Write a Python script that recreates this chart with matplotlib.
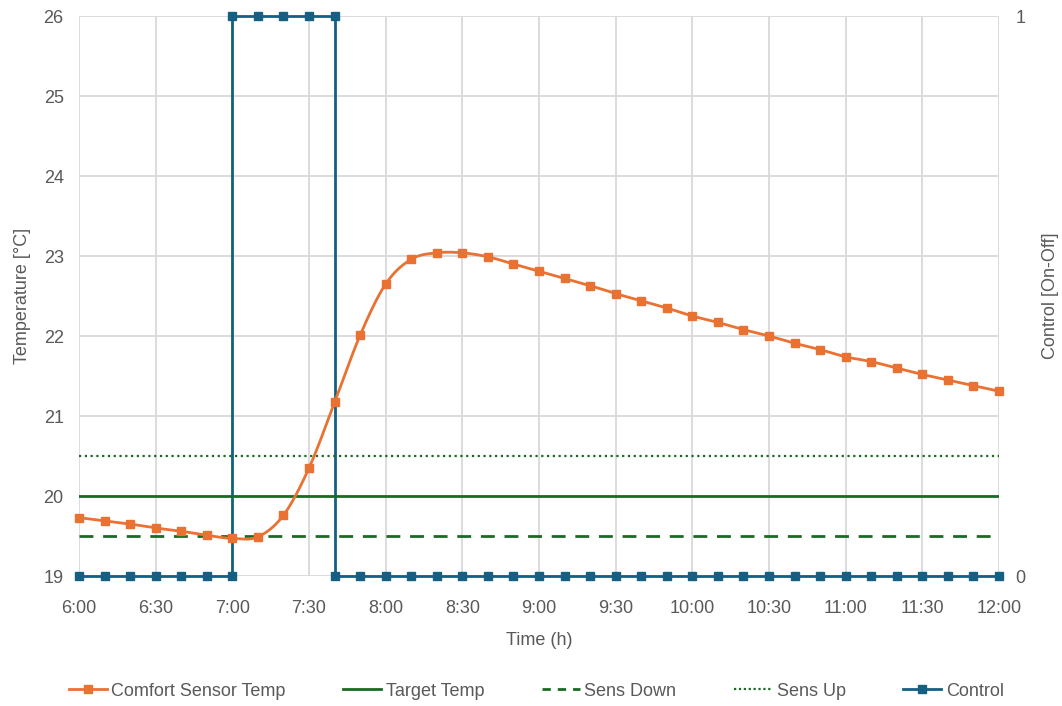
import numpy as np
import matplotlib.pyplot as plt
from matplotlib.lines import Line2D

# time in hours, one sample every 10 minutes
times = [6 + i / 6 for i in range(37)]

comfort_temp = [
    19.73, 19.69, 19.65, 19.60, 19.56, 19.51, 19.47, 19.49, 19.76, 20.35,
    21.17, 22.01, 22.65, 22.96, 23.04, 23.04, 22.99, 22.90, 22.81, 22.72,
    22.63, 22.53, 22.44, 22.35, 22.25, 22.17, 22.08, 22.00, 21.91, 21.83,
    21.74, 21.68, 21.60, 21.52, 21.45, 21.38, 21.31,
]

target_temp = 20.0
sens_down = 19.5
sens_up = 20.5

# on/off control: heater switched on 7:00 - 7:40
control_times = times[:7] + times[6:11] + times[10:]
control = [0] * 7 + [1] * 5 + [0] * 27

temp_ticks = [19, 20, 21, 22, 23, 24, 25, 26]
time_ticks = [6 + i / 2 for i in range(13)]
time_labels = ["6:00", "6:30", "7:00", "7:30", "8:00", "8:30", "9:00",
               "9:30", "10:00", "10:30", "11:00", "11:30", "12:00"]

ORANGE = "#E97132"
GREEN = "#196B24"
BLUE = "#156082"
GRID = "#D9D9D9"
TEXT = "#595959"


def catmull_rom(x, y, n=20):
    # smooth curve through the points, like a spreadsheet "smoothed line"
    x = np.asarray(x, float)
    y = np.asarray(y, float)
    px = np.concatenate([[2 * x[0] - x[1]], x, [2 * x[-1] - x[-2]]])
    py = np.concatenate([[2 * y[0] - y[1]], y, [2 * y[-1] - y[-2]]])
    xs, ys = [], []
    t = np.linspace(0, 1, n, endpoint=False)
    for i in range(1, len(px) - 2):
        for p, out in ((px, xs), (py, ys)):
            p0, p1, p2, p3 = p[i - 1], p[i], p[i + 1], p[i + 2]
            out.extend(0.5 * (2 * p1 + (-p0 + p2) * t
                              + (2 * p0 - 5 * p1 + 4 * p2 - p3) * t ** 2
                              + (-p0 + 3 * p1 - 3 * p2 + p3) * t ** 3))
    xs.append(x[-1])
    ys.append(y[-1])
    return np.array(xs), np.array(ys)


plt.rcParams["font.family"] = ["Liberation Sans", "DejaVu Sans"]

fig = plt.figure(figsize=(10.62, 7.06), dpi=100)
ax = fig.add_axes([0.0744, 0.1841, 0.8663, 0.7932])
ax2 = ax.twinx()

# control axis sits underneath so the temperature curve is drawn on top
ax2.set_zorder(0)
ax.set_zorder(1)
ax.patch.set_visible(False)

ax2.plot(control_times, control, color=BLUE, lw=2.0, marker="s",
         markersize=6, clip_on=False, zorder=3)
ax2.set_ylim(0, 1)
ax2.set_yticks([0, 1])
ax2.set_yticklabels(["0", "1"])
ax2.set_yticks([(t - 19) / 7 for t in temp_ticks], minor=True)
ax2.tick_params(axis="y", which="both", length=0, labelsize=13,
                labelcolor=TEXT, pad=12)
ax2.set_ylabel("Control [On-Off]", fontsize=13, color=TEXT, labelpad=12)

# grid lives on the lower axes so it stays under every line
ax2.xaxis.set_visible(True)
ax2.set_xticks(time_ticks)
ax2.tick_params(axis="x", length=0, labelbottom=False, labeltop=False)
ax2.grid(True, which="both", color=GRID, lw=1.3, zorder=0)
ax2.grid(False, axis="x", which="minor")

sx, sy = catmull_rom(times, comfort_temp)
ax.plot(sx, sy, color=ORANGE, lw=2.0, zorder=4, clip_on=False)
ax.plot(times, comfort_temp, ls="none", marker="s", markersize=6,
        color=ORANGE, zorder=5, clip_on=False)
ax.axhline(target_temp, color=GREEN, lw=2.0, zorder=3)
ax.axhline(sens_down, color=GREEN, lw=2.0, ls=(0, (5, 3.5)), zorder=3)
ax.axhline(sens_up, color=GREEN, lw=1.6, ls=(0, (1, 1.6)), zorder=3)

ax.set_xlim(6, 12)
ax.set_ylim(19, 26)
ax.set_yticks(temp_ticks)
ax.set_xticks(time_ticks)
ax.set_xticklabels(time_labels)
ax.tick_params(axis="both", length=0, labelsize=13, labelcolor=TEXT)
ax.tick_params(axis="y", pad=11)
ax.tick_params(axis="x", pad=17)

for a in (ax, ax2):
    for s in a.spines.values():
        s.set_visible(False)

ax.set_xlabel("Time (h)", fontsize=13, color=TEXT, labelpad=11)
ax.set_ylabel("Temperature [°C]", fontsize=13, color=TEXT, labelpad=9)

handles = [
    Line2D([], [], color=ORANGE, lw=2.0, marker="s", markersize=6),
    Line2D([], [], color=GREEN, lw=2.0),
    Line2D([], [], color=GREEN, lw=2.0, ls=(0, (3, 2.5))),
    Line2D([], [], color=GREEN, lw=1.6, ls=(0, (1, 1.2))),
    Line2D([], [], color=BLUE, lw=2.0, marker="s", markersize=6),
]
labels = ["Comfort Sensor Temp", "Target Temp", "Sens Down", "Sens Up", "Control"]
leg = fig.legend(handles, labels, loc="center", bbox_to_anchor=(0.505, 0.021),
                 ncol=5, frameon=False, fontsize=13, handlelength=2.1,
                 handletextpad=0.25, columnspacing=3.2)
for t in leg.get_texts():
    t.set_color(TEXT)

fig.savefig("out.png", dpi=100)
